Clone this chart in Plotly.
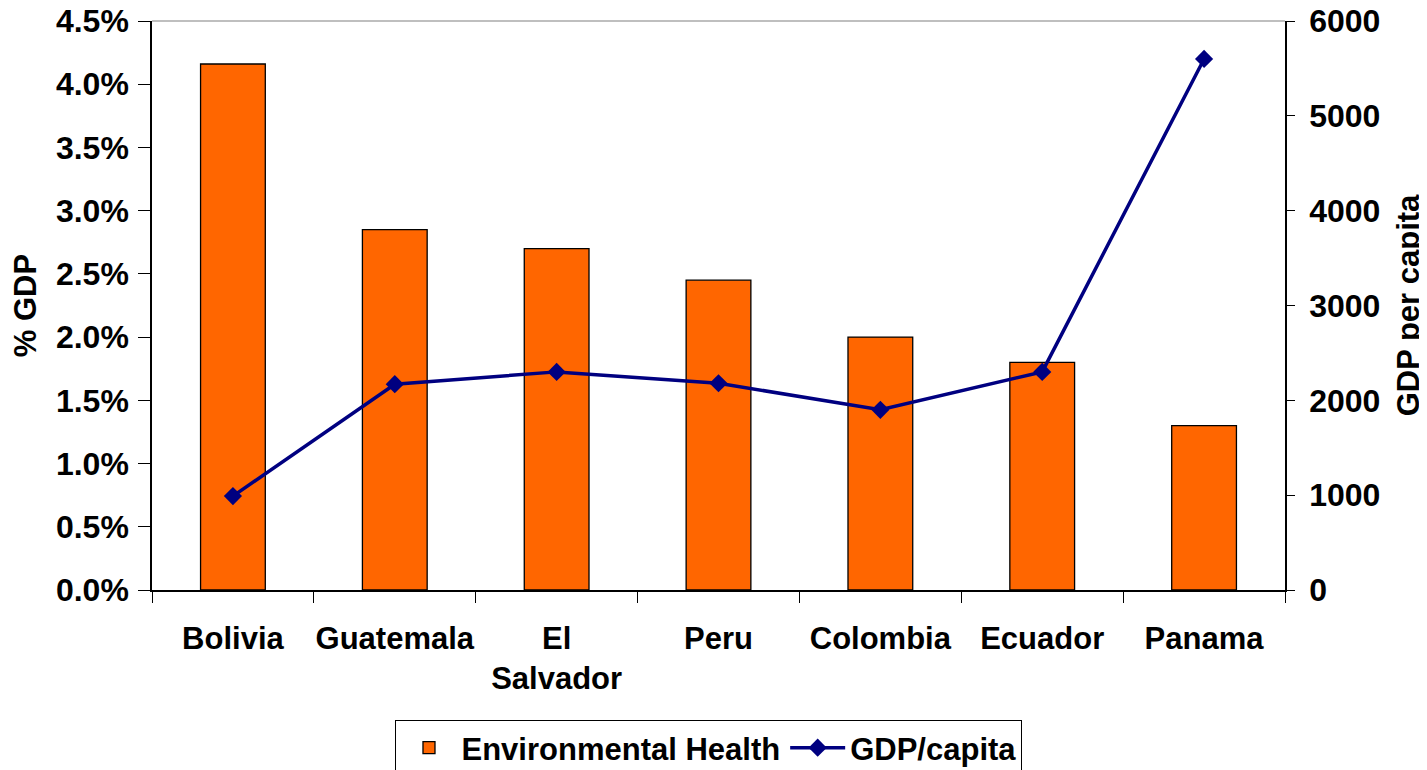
import plotly.graph_objects as go

countries = ["Bolivia", "Guatemala", "El<br>Salvador", "Peru", "Colombia", "Ecuador", "Panama"]
env_health = [0.0416, 0.0285, 0.0270, 0.0245, 0.0200, 0.0180, 0.0130]
gdp_capita = [990, 2170, 2300, 2180, 1900, 2300, 5600]
left_ticks = [0.0, 0.005, 0.01, 0.015, 0.02, 0.025, 0.03, 0.035, 0.04, 0.045]
right_ticks = [0, 1000, 2000, 3000, 4000, 5000, 6000]

FONT = "Liberation Sans, Arial, sans-serif"
font = dict(family=FONT, size=31, color="black", weight="bold")
tfont = dict(family=FONT, size=32, color="black", weight="bold")

fig = go.Figure()
fig.add_trace(go.Bar(
    x=countries, y=env_health, name="Environmental Health",
    marker=dict(color="#FF6600", line=dict(color="black", width=1.3)),
    yaxis="y",
))
fig.add_trace(go.Scatter(
    x=countries, y=gdp_capita, name="GDP/capita", mode="lines+markers",
    line=dict(color="#000080", width=3.5),
    marker=dict(symbol="diamond", size=14, color="#000080"),
    yaxis="y2",
))

# page body adds an 8px offset, so the figure is 8px smaller and margins shifted
fig.update_layout(
    width=1419, height=762,
    margin=dict(l=144, r=142, t=13, b=180, autoexpand=False),
    paper_bgcolor="white", plot_bgcolor="white",
    font=font,
    bargap=0.6,
    showlegend=True,
    legend=dict(
        orientation="h", x=0.4916, xanchor="center", y=-0.2285, yanchor="top",
        bordercolor="black", borderwidth=1, bgcolor="white",
        font=font, traceorder="normal", itemwidth=55,
    ),
    xaxis=dict(
        type="category", showline=True, linecolor="black", linewidth=1.5,
        ticks="outside", ticklen=11, tickcolor="black", tickwidth=1.2,
        tickson="boundaries", showgrid=False, tickfont=font, tickangle=0,
        ticklabelstandoff=20, range=[-0.5, 6.5], automargin=False,
    ),
    xaxis2=dict(
        overlaying="x", anchor="y", type="linear", range=[-0.5, 6.5],
        tickvals=[-0.5, 0.5, 1.5, 2.5, 3.5, 4.5, 5.5, 6.5],
        ticks="inside", ticklen=9, tickcolor="black", tickwidth=1.2,
        showticklabels=False, showgrid=False, showline=False, zeroline=False,
        automargin=False,
    ),
    yaxis=dict(
        range=[0, 0.045], tickvals=left_ticks, tickformat=".1%",
        showline=True, linecolor="black", linewidth=1.5,
        ticks="outside", ticklen=12, tickcolor="black", tickwidth=1.2,
        showgrid=False, zeroline=False, tickfont=tfont, automargin=False,
        ticklabeloverflow="allow", ticklabelstandoff=3,
        title=dict(text="% GDP", font=font, standoff=20),
    ),
    yaxis3=dict(
        overlaying="y", side="left", anchor="x", range=[0, 0.045], tickvals=left_ticks,
        ticks="inside", ticklen=9, tickcolor="black", tickwidth=1.2,
        showticklabels=False, showgrid=False, showline=False, zeroline=False,
        automargin=False,
    ),
    yaxis2=dict(
        overlaying="y", side="right", anchor="x", range=[0, 6000], tickvals=right_ticks,
        showline=True, linecolor="black", linewidth=1.5,
        ticks="outside", ticklen=8, tickcolor="black", tickwidth=1.2,
        showgrid=False, zeroline=False, tickfont=tfont, automargin=False,
        ticklabeloverflow="allow", ticklabelstandoff=8,
        title=dict(text="GDP per capita", font=font, standoff=18),
    ),
    yaxis4=dict(
        overlaying="y", side="right", anchor="x", range=[0, 6000], tickvals=right_ticks,
        ticks="inside", ticklen=12, tickcolor="black", tickwidth=1.2,
        showticklabels=False, showgrid=False, showline=False, zeroline=False,
        automargin=False,
    ),
    shapes=[dict(type="line", xref="paper", yref="paper", x0=0, x1=1, y0=1, y1=1,
                 line=dict(color="#808080", width=1.2))],
)

fig.write_html("out.html")
